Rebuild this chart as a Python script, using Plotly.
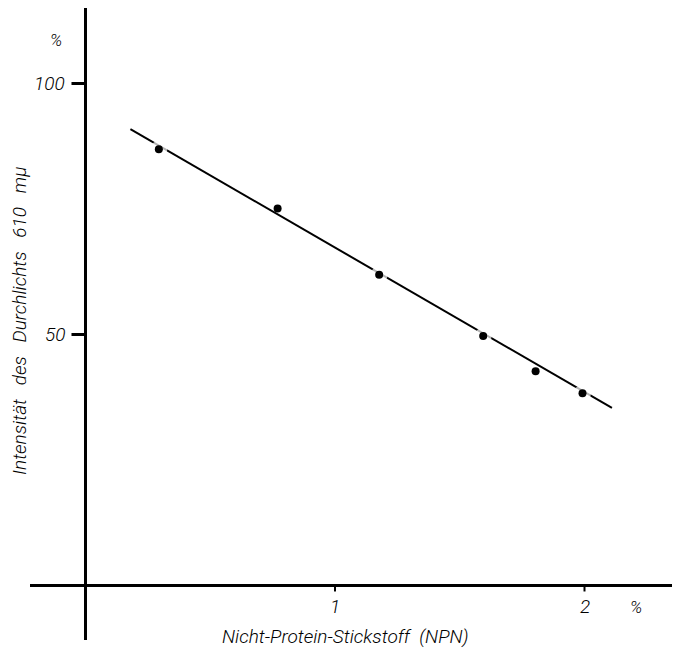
import plotly.graph_objects as go

# Data
npn_percent = [0.294, 0.770, 1.177, 1.594, 1.804, 1.992]
intensity_percent = [86.9, 75.1, 61.9, 49.7, 42.7, 38.3]

# Fitted straight line (end points)
fit_x = [0.18, 2.11]
fit_y = [90.9, 35.4]

x_tick_values = [1, 2]
x_tick_labels = ["1", "2"]
y_tick_values = [100, 50]
y_tick_labels = ["100", "50"]

FONT = "Roboto, Liberation Sans, sans-serif"
TXT = dict(family=FONT, size=19, color="black", weight=300)

fig = go.Figure()

# regression line
fig.add_trace(go.Scatter(x=fit_x, y=fit_y, mode="lines",
                         line=dict(color="black", width=2), hoverinfo="skip"))

# white halo behind the dots lying on the line (gives the gaps in the line)
fig.add_trace(go.Scatter(x=npn_percent, y=intensity_percent, mode="markers",
                         marker=dict(color="white", size=[17, 0, 17, 17, 0, 17],
                                     line=dict(width=0)),
                         hoverinfo="skip"))
# data points
fig.add_trace(go.Scatter(x=npn_percent, y=intensity_percent, mode="markers",
                         marker=dict(color="black", size=8, line=dict(width=0)),
                         hoverinfo="skip"))

shapes = []
# y ticks: short dashes to the left of the y axis (length in pixels)
for v in y_tick_values:
    shapes.append(dict(type="line", xref="x", yref="y", xsizemode="pixel",
                       xanchor=0, x0=-14, x1=0, y0=v, y1=v,
                       line=dict(color="black", width=3), layer="above"))
# x ticks: small marks just below the x axis
for v in x_tick_values:
    shapes.append(dict(type="line", xref="x", yref="y", ysizemode="pixel",
                       yanchor=0, x0=v, x1=v, y0=-6, y1=0,
                       line=dict(color="black", width=2), layer="above"))

annotations = []
for v, t in zip(y_tick_values, y_tick_labels):
    annotations.append(dict(x=0, y=v, xref="x", yref="y", text="<i>%s</i>" % t,
                            showarrow=False, xanchor="right", yanchor="middle",
                            xshift=-18, font=TXT))
for v, t in zip(x_tick_values, x_tick_labels):
    annotations.append(dict(x=v, y=0, xref="x", yref="y", text="<i>%s</i>" % t,
                            showarrow=False, xanchor="center", yanchor="middle",
                            yshift=-21, font=TXT))
annotations += [
    dict(x=0.0405, y=0.949, xref="paper", yref="paper", text="<i>%</i>", showarrow=False,
         xanchor="center", yanchor="middle", font=dict(TXT, size=17)),
    dict(x=0.944, y=0.052, xref="paper", yref="paper", text="<i>%</i>", showarrow=False,
         xanchor="center", yanchor="middle", font=dict(TXT, size=17)),
    dict(x=0.4907, y=0.005, xref="paper", yref="paper",
         text="<i>Nicht-Protein-Stickstoff  (NPN)</i>", showarrow=False,
         xanchor="center", yanchor="middle", font=TXT),
    dict(x=-0.0155, y=0.505, xref="paper", yref="paper", textangle=-90,
         text="<i>Intensität   des   Durchlichts   610   mμ</i>", showarrow=False,
         xanchor="center", yanchor="middle", font=TXT),
]

# the page body has an 8px margin, so the figure is shifted by 8px
fig.update_layout(
    width=672, height=652,
    margin=dict(l=22, r=8, t=0, b=20),
    paper_bgcolor="white", plot_bgcolor="white",
    showlegend=False,
    annotations=annotations,
    shapes=shapes,
    xaxis=dict(range=[-0.2224, 2.3507], showgrid=False, showticklabels=False, ticks="",
               zeroline=True, zerolinecolor="black", zerolinewidth=3, showline=False,
               fixedrange=True),
    yaxis=dict(range=[-10.86, 115.04], showgrid=False, showticklabels=False, ticks="",
               zeroline=True, zerolinecolor="black", zerolinewidth=3, showline=False,
               fixedrange=True),
)

fig.write_html("out.html")
